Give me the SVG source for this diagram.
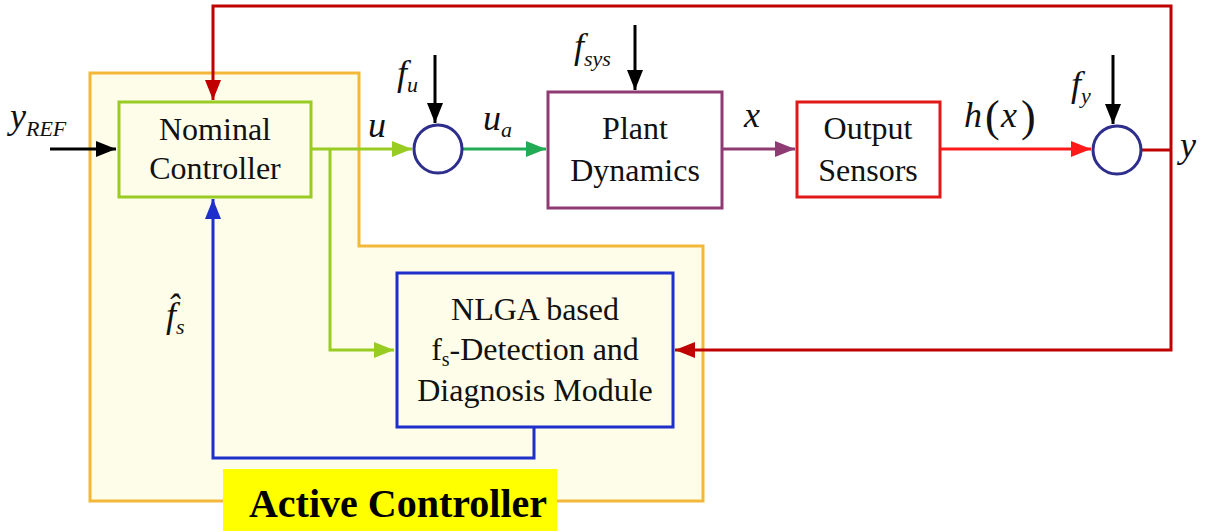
<svg xmlns="http://www.w3.org/2000/svg" width="1214" height="532" viewBox="0 0 1214 532">
<defs>
<style>
text{font-family:"Liberation Serif","Times New Roman",Times,"DejaVu Serif",serif}
.t{font-size:32px;fill:#111;text-anchor:middle}
.m{font-style:italic;fill:#111}
.ln{fill:none;stroke-width:3}
</style>
<marker id="aR" markerWidth="20" markerHeight="16" refX="20" refY="8" orient="auto" markerUnits="userSpaceOnUse"><path d="M0,0 L20,8 L0,16 z" fill="#C00000"/></marker>
<marker id="aR2" markerWidth="20" markerHeight="16" refX="20" refY="8" orient="auto" markerUnits="userSpaceOnUse"><path d="M0,0 L20,8 L0,16 z" fill="#FF1A1A"/></marker>
<marker id="aG" markerWidth="20" markerHeight="16" refX="20" refY="8" orient="auto" markerUnits="userSpaceOnUse"><path d="M0,0 L20,8 L0,16 z" fill="#99CC22"/></marker>
<marker id="aG2" markerWidth="20" markerHeight="16" refX="20" refY="8" orient="auto" markerUnits="userSpaceOnUse"><path d="M0,0 L20,8 L0,16 z" fill="#22AA55"/></marker>
<marker id="aP" markerWidth="20" markerHeight="16" refX="20" refY="8" orient="auto" markerUnits="userSpaceOnUse"><path d="M0,0 L20,8 L0,16 z" fill="#8E3A73"/></marker>
<marker id="aB" markerWidth="20" markerHeight="16" refX="20" refY="8" orient="auto" markerUnits="userSpaceOnUse"><path d="M0,0 L20,8 L0,16 z" fill="#1F2FCC"/></marker>
<marker id="aBk" markerWidth="20" markerHeight="16" refX="20" refY="8" orient="auto" markerUnits="userSpaceOnUse"><path d="M0,0 L20,8 L0,16 z" fill="#000"/></marker>
</defs>
<rect width="1214" height="532" fill="#fff"/>
<g id="active-controller">
<path d="M90,73 H359 V246 H703 V501 H90 Z" fill="#FDFDE9" stroke="#F3B73A" stroke-width="3"/>
<rect x="223" y="469" width="334" height="62" fill="#FFFF00"/>
<text x="398" y="517" style="font-size:40px;font-weight:bold;text-anchor:middle;fill:#000">Active Controller</text>
</g>
<g id="connectors">
<path class="ln" d="M1171,150 V6 H213 V100" stroke="#C00000" marker-end="url(#aR)"/>
<path class="ln" d="M1171,150 V350 H675" stroke="#C00000" marker-end="url(#aR)"/>
<path class="ln" d="M1141,150 H1171" stroke="#C00000"/>
<path class="ln" d="M50,149 H116" stroke="#000" marker-end="url(#aBk)"/>
<path class="ln" d="M311,149 H412" stroke="#99CC22" marker-end="url(#aG)"/>
<path class="ln" d="M330,149 V350 H394" stroke="#99CC22" marker-end="url(#aG)"/>
<path class="ln" d="M463,149 H546" stroke="#22AA55" marker-end="url(#aG2)"/>
<path class="ln" d="M722,149 H795" stroke="#8E3A73" marker-end="url(#aP)"/>
<path class="ln" d="M940,149 H1091" stroke="#FF1A1A" marker-end="url(#aR2)"/>
<path class="ln" d="M534,428 V458 H213 V199" stroke="#1F2FCC" marker-end="url(#aB)"/>
<path class="ln" d="M435,55 V123" stroke="#000" marker-end="url(#aBk)"/>
<path class="ln" d="M635,25 V90" stroke="#000" marker-end="url(#aBk)"/>
<path class="ln" d="M1113,55 V124" stroke="#000" marker-end="url(#aBk)"/>
</g>
<g id="nominal-controller">
<rect x="119" y="102" width="192" height="95" fill="#FDFDE9" stroke="#99CC22" stroke-width="3"/>
<text class="t" x="215" y="140">Nominal</text>
<text class="t" x="215" y="179">Controller</text>
</g>
<g id="sum-u"><circle cx="438" cy="149" r="24" fill="#fff" stroke="#2E2E8C" stroke-width="3"/></g>
<g id="plant-dynamics">
<rect x="548" y="92" width="174" height="116" fill="#fff" stroke="#8E3A73" stroke-width="3"/>
<text class="t" x="635" y="139">Plant</text>
<text class="t" x="635" y="181">Dynamics</text>
</g>
<g id="output-sensors">
<rect x="797" y="102" width="143" height="95" fill="#fff" stroke="#E01818" stroke-width="3"/>
<text class="t" x="868" y="139">Output</text>
<text class="t" x="868" y="181">Sensors</text>
</g>
<g id="sum-y"><circle cx="1117" cy="150" r="24" fill="#fff" stroke="#2E2E8C" stroke-width="3"/></g>
<g id="nlga-module">
<rect x="397" y="273" width="276" height="154" fill="#FDFDE9" stroke="#1F2FCC" stroke-width="3"/>
<text class="t" x="535" y="320">NLGA based</text>
<text class="t" x="535" y="360">f<tspan font-size="20" dy="6">s</tspan><tspan dy="-6">-Detection and</tspan></text>
<text class="t" x="535" y="401">Diagnosis Module</text>
</g>
<g id="labels">
<text class="m" x="10" y="128" font-size="36">y<tspan font-size="22" dy="8">REF</tspan></text>
<text class="m" x="368" y="137" font-size="36">u</text>
<text class="m" x="483" y="130" font-size="36">u<tspan font-size="22" dy="7">a</tspan></text>
<text class="m" x="397" y="85" font-size="36">f<tspan font-size="22" dy="7">u</tspan></text>
<text class="m" x="574" y="58" font-size="36">f<tspan font-size="22" dy="8">sys</tspan></text>
<text class="m" x="744" y="127" font-size="36">x</text>
<text class="m" x="964" y="127" font-size="36">h</text>
<text x="985" y="131" style="font-size:44px;fill:#111">(</text>
<text class="m" x="1001" y="127" font-size="36">x</text>
<text x="1021" y="131" style="font-size:44px;fill:#111">)</text>
<text class="m" x="1071" y="96" font-size="36">f<tspan font-size="22" dy="7">y</tspan></text>
<text class="m" x="1180" y="157" font-size="36">y</text>
<text class="m" x="166" y="327" font-size="36">f̂<tspan font-size="22" dy="7">s</tspan></text>
</g>
</svg>
